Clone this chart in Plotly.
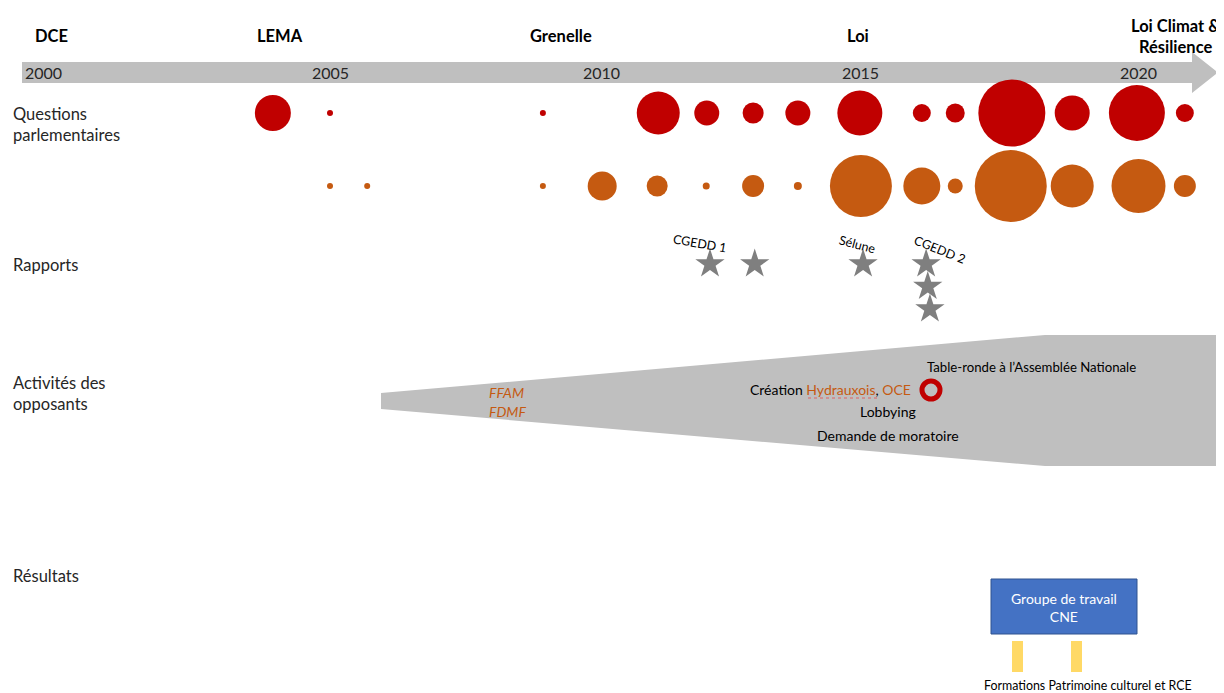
import plotly.graph_objects as go

# page body has an 8px margin: figure is drawn 8px in from the top-left corner
OFF = 8
W, H = 1224 - OFF, 693 - OFF
FONT = "Lato"

# ---------------- data ----------------
year_ticks = ["2000", "2005", "2010", "2015", "2020"]
year_tick_pos = [1999.68, 2005.0, 2010.03, 2014.85, 2020.0]

milestones = ["DCE", "LEMA", "Grenelle", "Loi", "Loi Climat &<br>Résilience"]
milestone_pos = [1999.84, 2004.07, 2009.29, 2014.80, 2020.68]

questions_years = [2003.94, 2005.0, 2008.95, 2011.09, 2011.99, 2012.85, 2013.68,
                   2014.83, 2015.98, 2016.60, 2017.65, 2018.77, 2019.97, 2020.86]
questions_size = [36, 6, 6, 43, 25, 21, 25, 45, 18, 19, 67, 35, 56, 18]

second_years = [2005.0, 2005.69, 2008.95, 2010.05, 2011.07, 2011.98, 2012.85, 2013.68,
                2014.85, 2015.98, 2016.60, 2017.63, 2018.77, 2020.0, 2020.86]
second_size = [6, 6, 6, 29, 21, 7, 22, 8, 62, 37, 15, 72, 43, 54, 22]

report_years = [2012.05, 2012.88, 2014.89, 2016.06, 2016.09, 2016.13]
report_stack = [0, 0, 0, 0, 1, 2]
report_labels = ["CGEDD 1", "", "Sélune", "CGEDD 2", "", ""]
report_label_angle = [10, 0, 15, 22, 0, 0]

roundtable_year = 2016.15

row_labels = ["Questions<br>parlementaires", "Rapports", "Activités des<br>opposants", "Résultats"]

# ---------------- layout helpers ----------------
PX_PER_YEAR = 53.9
X0 = 2005 - (330 - OFF) / PX_PER_YEAR
X1 = X0 + W / PX_PER_YEAR


def px(v):
    return (v - OFF) / W


RED = "#C00000"
ORANGE = "#C55A11"
GREY = "#BFBFBF"
STAR = "#7F7F7F"
TXT = "#262626"

fig = go.Figure()

fig.add_trace(go.Scatter(
    x=questions_years, y=[113] * len(questions_years), mode="markers",
    marker=dict(size=questions_size, sizemode="diameter", color=RED, opacity=1,
                line=dict(width=0)),
    hoverinfo="skip", showlegend=False))

fig.add_trace(go.Scatter(
    x=second_years, y=[186] * len(second_years), mode="markers",
    marker=dict(size=second_size, sizemode="diameter", color=ORANGE, opacity=1,
                line=dict(width=0)),
    hoverinfo="skip", showlegend=False))

fig.add_trace(go.Scatter(
    x=report_years, y=[264 + 22.5 * s for s in report_stack], mode="markers",
    marker=dict(symbol="star", size=22, color=STAR, opacity=1, line=dict(width=0)),
    hoverinfo="skip", showlegend=False))

shapes = []
# timeline arrow
shapes.append(dict(
    type="path", xref="paper", yref="y",
    path=(f"M {px(22)},62 L {px(1192)},62 L {px(1192)},52 L {px(1218)},72.5 "
          f"L {px(1192)},93 L {px(1192)},83 L {px(22)},83 Z"),
    fillcolor=GREY, line=dict(width=0), layer="below"))
# opponents wedge
shapes.append(dict(
    type="path", xref="paper", yref="y",
    path=(f"M {px(381)},393 L {px(1045)},335 L {px(1217)},335 L {px(1217)},466 "
          f"L {px(1045)},466 L {px(381)},409 Z"),
    fillcolor=GREY, line=dict(width=0), layer="below"))
# results box
shapes.append(dict(type="rect", xref="paper", yref="y",
                   x0=px(991), x1=px(1137), y0=579, y1=634,
                   fillcolor="#4472C4", line=dict(color="#2F528F", width=1)))
for xb in (1012, 1071):
    shapes.append(dict(type="rect", xref="paper", yref="y",
                       x0=px(xb), x1=px(xb + 11), y0=641, y1=672,
                       fillcolor="#FFD966", line=dict(width=0)))
# spell-check squiggle under Hydrauxois
shapes.append(dict(type="line", xref="paper", yref="y",
                   x0=px(808), x1=px(877), y0=398, y1=398,
                   line=dict(color="#E06060", width=1, dash="dot")))

fig.add_trace(go.Scatter(
    x=[roundtable_year], y=[390], mode="markers",
    marker=dict(symbol="circle-open", size=18, color=RED, opacity=1,
                line=dict(width=5, color=RED)),
    hoverinfo="skip", showlegend=False))

ann = []
for t, xp in zip(year_ticks, year_tick_pos):
    ann.append(dict(x=xp, y=72.5, xref="x", yref="y", text=t, showarrow=False,
                    font=dict(family=FONT, size=16, color=TXT), xanchor="center",
                    yanchor="middle"))
for t, xp in zip(milestones, milestone_pos):
    yy = 36
    ann.append(dict(x=xp, y=yy, xref="x", yref="y", text=f"<b>{t}</b>", showarrow=False,
                    font=dict(family=FONT, size=16.5, color="#000000"), xanchor="center",
                    yanchor="middle"))
row_y = [124, 265, 393, 576]
for t, yy in zip(row_labels, row_y):
    ann.append(dict(x=px(11), y=yy, xref="paper", yref="y", text=t, showarrow=False,
                    align="left", font=dict(family=FONT, size=16.5, color=TXT),
                    xanchor="left", yanchor="middle"))
label_offsets = {"CGEDD 1": (-0.18, 243), "Sélune": (-0.10, 244), "CGEDD 2": (0.25, 249)}
for t, xp, ang in zip(report_labels, report_years, report_label_angle):
    if not t:
        continue
    dx, yy = label_offsets[t]
    ann.append(dict(x=xp + dx, y=yy, xref="x", yref="y", text=t, showarrow=False,
                    textangle=ang, font=dict(family=FONT, size=12.5, color="#000000"),
                    xanchor="center", yanchor="middle"))

extra = [
    dict(x=px(487), y=392, text="<i>FFAM</i>", xanchor="left",
         font=dict(family=FONT, size=14, color=ORANGE)),
    dict(x=px(487), y=411, text="<i>FDMF</i>", xanchor="left",
         font=dict(family=FONT, size=14, color=ORANGE)),
    dict(x=px(830), y=389,
         text=("Création <span style='color:#C55A11'>Hydrauxois</span>, "
               "<span style='color:#C55A11'>OCE</span>"),
         xanchor="center", font=dict(family=FONT, size=14, color="#000000")),
    dict(x=px(888), y=411, text="Lobbying", xanchor="center",
         font=dict(family=FONT, size=14, color="#000000")),
    dict(x=px(888), y=435, text="Demande de moratoire", xanchor="center",
         font=dict(family=FONT, size=14, color="#000000")),
    dict(x=px(925), y=367, text="Table-ronde à l’Assemblée Nationale", xanchor="left",
         font=dict(family=FONT, size=13.2, color="#000000")),
    dict(x=px(1064), y=607, text="Groupe de travail<br>CNE", xanchor="center",
         font=dict(family=FONT, size=14, color="#FFFFFF")),
    dict(x=px(1088), y=685, text="Formations Patrimoine culturel et RCE", xanchor="center",
         font=dict(family=FONT, size=12.4, color="#000000")),
]
for a in extra:
    a.update(xref="paper", yref="y", showarrow=False, yanchor="middle")
ann += extra

fig.update_layout(
    width=W, height=H, margin=dict(l=0, r=0, t=0, b=0),
    paper_bgcolor="white", plot_bgcolor="white",
    xaxis=dict(range=[X0, X1], visible=False, fixedrange=True),
    yaxis=dict(range=[693, OFF], visible=False, fixedrange=True),
    shapes=shapes, annotations=ann, showlegend=False)

fig.write_html("out.html")
